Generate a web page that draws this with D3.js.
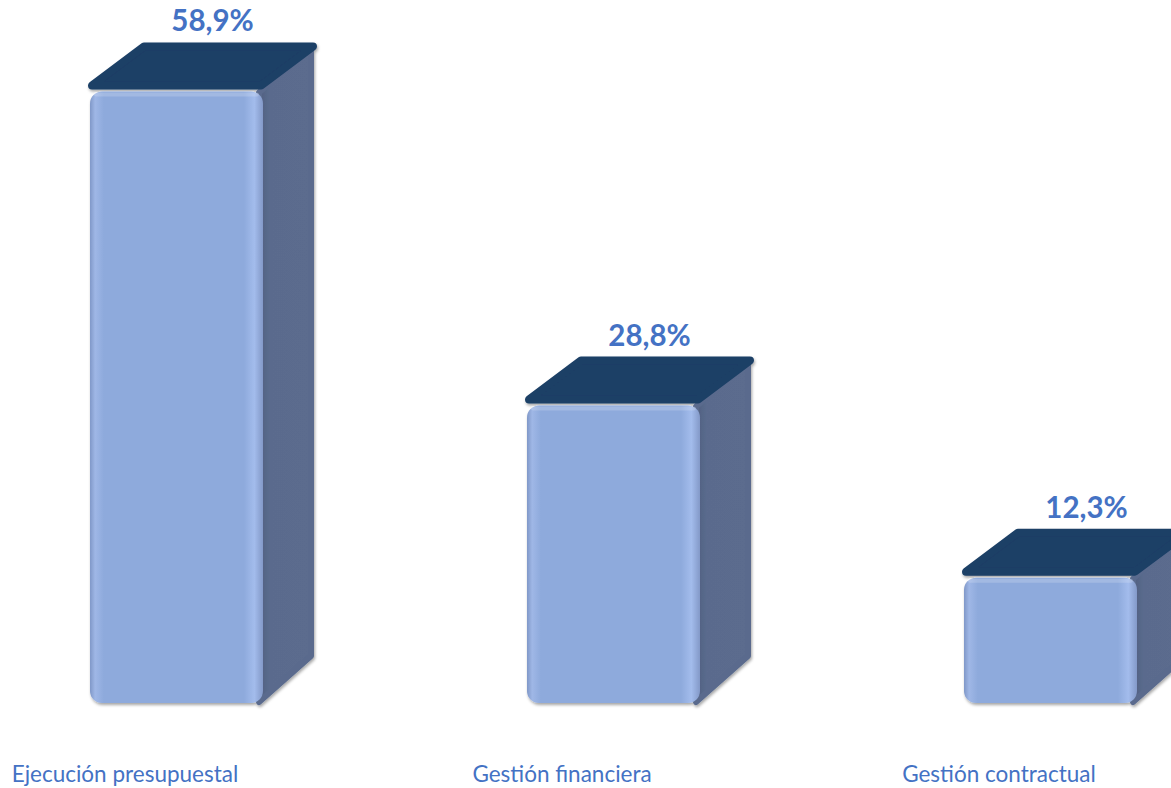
<!DOCTYPE html>
<html>
<head>
<meta charset="utf-8">
<script src="https://cdn.jsdelivr.net/npm/d3@7"></script>
<style>
  html, body { margin: 0; padding: 0; background: #ffffff; }
  svg { display: block; }
</style>
</head>
<body>
<div id="chart"></div>
<script>
const categories = ["Ejecución presupuestal", "Gestión financiera", "Gestión contractual"];
const values = [58.9, 28.8, 12.3];
const valueLabels = ["58,9%", "28,8%", "12,3%"];

const W = 1171, H = 788;
const svg = d3.select("#chart").append("svg").attr("width", W).attr("height", H);

const x = d3.scalePoint().domain(categories).range([125, 999]);
const y = d3.scaleLinear().domain([0, 60]).range([703, 77]);

const barW = 173, offX = -35, dx = 52, dy = -45, r = 12;

const defs = svg.append("defs");
const fg = defs.append("linearGradient").attr("id", "front").attr("x1", 0).attr("x2", 1).attr("y1", 0).attr("y2", 0);
[[0, "#8098c8"], [0.03, "#9fb7e6"], [0.08, "#8eaadc"], [0.89, "#8eaadc"], [0.95, "#a3bcec"], [1, "#8399c8"]]
  .forEach(([o, c]) => fg.append("stop").attr("offset", o).attr("stop-color", c));
const sg = defs.append("linearGradient").attr("id", "side").attr("x1", 0).attr("x2", 1).attr("y1", 0).attr("y2", 0);
[[0, "#4f5f80"], [0.2, "#5a6b8d"], [1, "#5b6c8e"]]
  .forEach(([o, c]) => sg.append("stop").attr("offset", o).attr("stop-color", c));
const flt = defs.append("filter").attr("id", "shadow").attr("x", "-10%").attr("y", "-10%").attr("width", "130%").attr("height", "130%");
flt.append("feDropShadow").attr("dx", 1).attr("dy", 2).attr("stdDeviation", 1.5).attr("flood-color", "#000").attr("flood-opacity", 0.35);

const data = categories.map((c, i) => ({ c, v: values[i], label: valueLabels[i] }));
const base = y(0);

const g = svg.append("g").selectAll("g").data(data).join("g").attr("filter", "url(#shadow)");

// side face
g.append("path")
  .attr("d", d => {
    const x0 = x(d.c) + offX + barW - 4, yt = y(d.v) + 4;
    return `M${x0},${yt} L${x0 + dx},${yt + dy} L${x0 + dx},${base + dy - 2} L${x0},${base - 1} Z`;
  })
  .attr("fill", "url(#side)")
  .attr("stroke", "#5a6b8d").attr("stroke-width", 6).attr("stroke-linejoin", "round");

// front face
g.append("rect")
  .attr("x", d => x(d.c) + offX)
  .attr("y", d => y(d.v) + 3)
  .attr("width", barW)
  .attr("height", d => base - y(d.v) - 3)
  .attr("rx", r).attr("ry", r)
  .attr("fill", "url(#front)");
// top highlight on front face
g.append("rect")
  .attr("x", d => x(d.c) + offX + 4)
  .attr("y", d => y(d.v) + 4)
  .attr("width", barW - 8)
  .attr("height", 4)
  .attr("rx", 2)
  .attr("fill", "#ffffff").attr("opacity", 0.18);

// top face
g.append("path")
  .attr("d", d => {
    const x0 = x(d.c) + offX + 2, yt = y(d.v) - 3;
    return `M${x0},${yt} L${x0 + dx},${yt + dy + 6} L${x0 + barW + dx - 4},${yt + dy + 6} L${x0 + barW - 4},${yt} Z`;
  })
  .attr("fill", "#1b3f66")
  .attr("stroke", "#1b3f66").attr("stroke-width", 8).attr("stroke-linejoin", "round");

// value labels
svg.append("g").selectAll("text").data(data).join("text")
  .attr("x", d => x(d.c) + offX + barW / 2 + 36)
  .attr("y", d => y(d.v) - 57)
  .attr("text-anchor", "middle")
  .attr("font-family", "Lato, 'Open Sans', sans-serif")
  .attr("font-weight", "bold")
  .attr("font-size", 29.5)
  .attr("fill", "#4472c4")
  .text(d => d.label);

// category labels
svg.append("g").selectAll("text").data(data).join("text")
  .attr("x", d => x(d.c))
  .attr("y", 782)
  .attr("text-anchor", "middle")
  .attr("font-family", "Lato, 'Open Sans', sans-serif")
  .attr("font-size", 22.5)
  .attr("fill", "#4472c4")
  .text(d => d.c);
</script>
</body>
</html>
